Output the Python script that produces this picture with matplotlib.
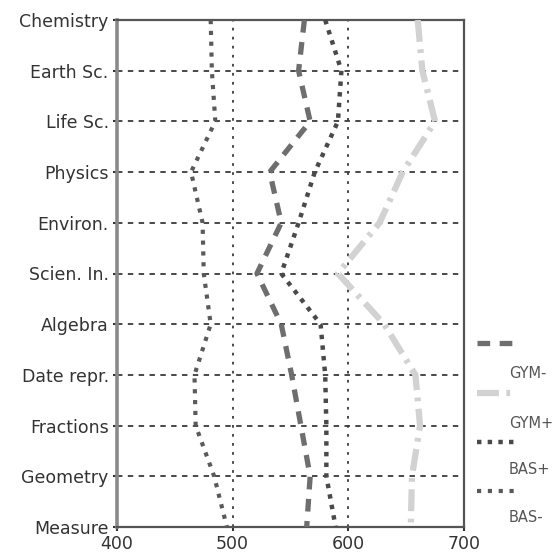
import matplotlib
matplotlib.use("Agg")
import matplotlib.pyplot as plt
from matplotlib.lines import Line2D

categories = ["Chemistry", "Earth Sc.", "Life Sc.", "Physics", "Environ.", "Scien. In.",
              "Algebra", "Date repr.", "Fractions", "Geometry", "Measure"]
gym_minus = [562, 557, 567, 532, 542, 521, 542, 551, 559, 567, 564]
gym_plus = [660, 664, 675, 647, 627, 591, 631, 658, 662, 655, 654]
bas_plus = [580, 594, 591, 571, 557, 542, 576, 580, 581, 581, 589]
bas_minus = [481, 482, 485, 464, 474, 475, 481, 467, 468, 484, 495]
series_names = ["GYM-", "GYM+", "BAS+", "BAS-"]
x_ticks = [400, 500, 600, 700]

plt.rcParams['font.family'] = ['DejaVu Sans']

fig = plt.figure(figsize=(5.57, 5.55), dpi=100)
ax = fig.add_axes([117/557, 1-527/555, (464-117)/557, (527-20)/555])

ypos = list(range(len(categories)))

styles = [
    dict(color="#6e6e6e", lw=3.8, ls=(0, (2.4, 1.8))),
    dict(color="#d2d2d2", lw=4.5, ls=(0, (3.5, 1.2, 0.6, 1.2))),
    dict(color="#4a4a4a", lw=3.2, ls=(0, (1.0, 1.4))),
    dict(color="#5a5a5a", lw=3.0, ls=(0, (1.0, 1.6))),
]
data = [gym_minus, gym_plus, bas_plus, bas_minus]

for vals, st in zip(data, styles):
    ax.plot(vals, ypos, color=st["color"], lw=st["lw"], linestyle=st["ls"],
            solid_capstyle="butt", dash_capstyle="butt", zorder=3)

ax.set_ylim(len(categories) - 1, 0)
ax.set_xlim(400, 700)
ax.set_xticks(x_ticks)
ax.set_xticklabels([str(v) for v in x_ticks])
ax.set_yticks(ypos)
ax.set_yticklabels(categories)

for y in ypos:
    ax.axhline(y, color="#3a3a3a", lw=1.3, ls=(0, (3, 3)), zorder=1)
for x in x_ticks[1:-1]:
    ax.axvline(x, color="#3a3a3a", lw=1.3, ls=(0, (1.5, 3.5)), zorder=1)

for side in ["top", "right", "bottom"]:
    ax.spines[side].set_color("#555555")
    ax.spines[side].set_linewidth(1.6)
ax.spines["left"].set_color("#8a8a8a")
ax.spines["left"].set_linewidth(2.6)

ax.tick_params(axis="both", length=3, width=1.5, color="#333333",
               labelsize=12.5, labelcolor="#333333", pad=3)

# manual legend (handle above label)
handle_y = [343, 393, 442, 491]
label_y = [374, 423, 470, 518]
for name, st, hy, ly in zip(series_names, styles, handle_y, label_y):
    fig.add_artist(Line2D([477/557, 517/557], [1-hy/555, 1-hy/555],
                          transform=fig.transFigure, color=st["color"],
                          lw=st["lw"], linestyle=st["ls"], dash_capstyle="butt"))
    fig.text(509/557, 1-ly/555, name, fontsize=10.5, color="#555555",
             va="center", ha="left")

fig.savefig("out.png", dpi=100)
